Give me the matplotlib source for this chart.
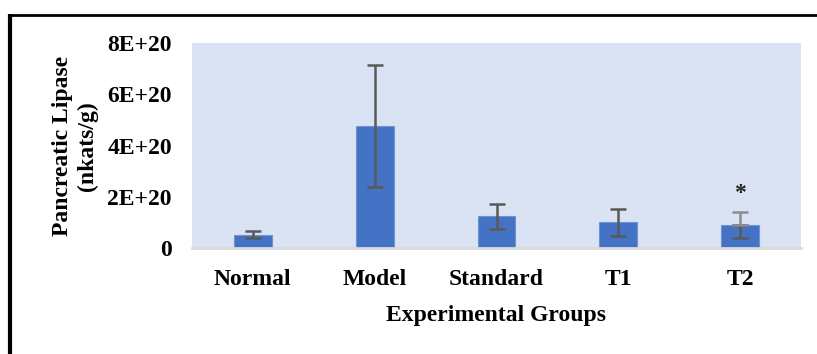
import matplotlib
matplotlib.use("Agg")
import matplotlib.pyplot as plt
from matplotlib.lines import Line2D
import numpy as np

groups = ["Normal", "Model", "Standard", "T1", "T2"]
means = [0.53e20, 4.76e20, 1.25e20, 1.01e20, 0.90e20]
errors = [0.13e20, 2.37e20, 0.48e20, 0.54e20, 0.51e20]
y_ticks = [0, 2e20, 4e20, 6e20, 8e20]
y_tick_labels = ["0", "2E+20", "4E+20", "6E+20", "8E+20"]
marked_group = "T2"

W, H, DPI = 817, 354, 100
fig = plt.figure(figsize=(W / DPI, H / DPI), dpi=DPI)
fig.patch.set_facecolor("white")

font = dict(family="Liberation Serif", weight="bold", size=17)

# axes placement in pixels
left, right, top, bottom = 192, 801, 43, 248.3
ax = fig.add_axes([left / W, 1 - bottom / H, (right - left) / W, (bottom - top) / H])
ax.set_facecolor("#DAE3F3")

x = np.arange(len(groups))
ax.bar(x, means, width=0.31, color="#4472C4", edgecolor="#6F93D3", linewidth=0.8, zorder=2)

# error bars; the marked group's upper whisker is drawn lighter
for xi, g, m, e in zip(x, groups, means, errors):
    if g == marked_group:
        ax.errorbar(xi, m, yerr=[[e], [0]], fmt="none", ecolor="#595959",
                    elinewidth=1.8, capsize=6, capthick=1.8, zorder=3)
        ax.errorbar(xi, m, yerr=[[0], [e]], fmt="none", ecolor="#8C8C8C",
                    elinewidth=1.8, capsize=6, capthick=1.8, zorder=3)
        ax.text(xi, m + e + 0.52e20, "*", ha="center", va="baseline",
                fontsize=17, fontweight="bold", family="Liberation Serif", color="#222222")
    else:
        ax.errorbar(xi, m, yerr=e, fmt="none", ecolor="#595959",
                    elinewidth=1.8, capsize=6, capthick=1.8, zorder=3)

ax.set_xlim(-0.5, len(groups) - 0.5)
ax.set_ylim(0, 8e20)
ax.set_yticks(y_ticks)
ax.set_yticklabels(y_tick_labels, **font)
ax.set_xticks(x)
ax.set_xticklabels(groups, **font)
ax.tick_params(axis="both", length=0)
ax.tick_params(axis="y", pad=14.4)
ax.tick_params(axis="x", pad=15)

for s in ["top", "right", "left"]:
    ax.spines[s].set_visible(False)
ax.spines["bottom"].set_color("#D9D9D9")
ax.spines["bottom"].set_linewidth(2)

ax.set_xlabel("Experimental Groups", labelpad=11, **font)
fig.text(75 / W, 1 - 146 / H, "Pancreatic Lipase\n(nkats/g)", rotation=90,
         ha="center", va="center", linespacing=1.25, **font)

# outer frame (left and top edges)
fig.add_artist(Line2D([10 / W, 10 / W], [0, 1 - 14 / H], transform=fig.transFigure,
                      color="black", linewidth=3, solid_capstyle="butt"))
fig.add_artist(Line2D([8 / W, 1], [1 - 15 / H, 1 - 15 / H], transform=fig.transFigure,
                      color="black", linewidth=2, solid_capstyle="butt"))

fig.savefig("out.png", dpi=DPI)
